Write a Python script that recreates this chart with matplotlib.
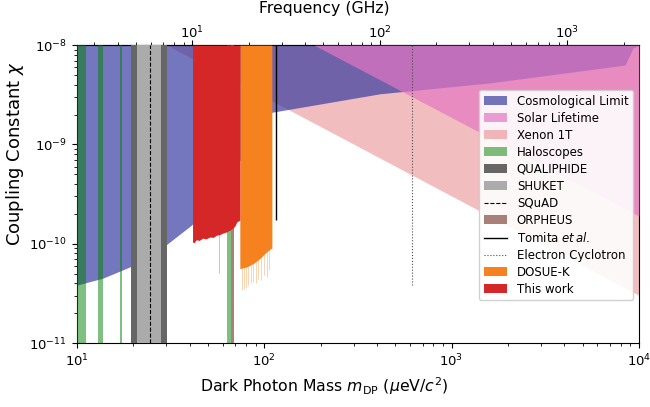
import numpy as np
import matplotlib
matplotlib.use('Agg')
import matplotlib.pyplot as plt
from matplotlib.patches import Patch
from matplotlib.lines import Line2D

YTOP = 1e-8

# cosmological limit, lower edge (mass in ueV, coupling)
cosmo_mass = [10.0, 13.8, 19.6, 30.3, 41.1, 55.0, 75.0, 95.0, 110.0, 415.0, 529.0, 1603.0, 8430.0, 9290.0, 10000.0]
cosmo_low = [3.83e-11, 4.51e-11, 5.94e-11, 9.9e-11, 1.55e-10, 3.16e-10, 7.08e-10, 1.41e-9, 2.11e-9,
             3.24e-9, 3.39e-9, 4.17e-9, 6.31e-9, 9.33e-9, 1e-8]

solar_mass = [185.0, 10000.0]
solar_low = [1e-8, 1.9e-10]

xenon_mass = [30.3, 10000.0]
xenon_low = [1e-8, 3.03e-11]

halo_lo = [10.0, 12.99, 16.97, 63.5]
halo_hi = [11.27, 13.81, 17.54, 66.2]

qualiphide = [19.6, 30.35]
shuket = [21.0, 28.3]
squad_mass = 24.7
orpheus = [66.2, 69.2]

tomita_mass = 115.5
tomita_low = 1.73e-10
cyclo_mass = 616.6
cyclo_low = 3.83e-11

dosue_mass = [74.2, 74.5, 80.7, 87.8, 94.9, 103.0, 108.5, 110.0]
dosue_low = [5.64e-11, 5.64e-11, 5.85e-11, 6.34e-11, 7.11e-11, 8.28e-11, 8.97e-11, 9.0e-11]
dosue_spike_mass = [76.0, 77.9, 79.9, 82.3, 84.9, 87.0, 90.3, 92.6, 96.0, 99.6, 103.4, 106.6]
dosue_spike_low = [3.41e-11, 3.49e-11, 3.66e-11, 3.83e-11, 4.01e-11, 4.10e-11, 4.01e-11, 4.40e-11,
                   4.30e-11, 4.82e-11, 4.61e-11, 5.42e-11]

red_mass = [41.5, 42.2, 43.5, 45.0, 47.1, 49.0, 51.3, 53.5, 55.7, 58.0, 60.2, 63.2, 66.0, 68.1, 70.0, 71.5, 73.0, 74.2]
red_low = [1.045e-10, 1.02e-10, 1.10e-10, 1.08e-10, 1.14e-10, 1.12e-10, 1.17e-10, 1.16e-10, 1.22e-10,
           1.24e-10, 1.28e-10, 1.32e-10, 1.38e-10, 1.44e-10, 1.52e-10, 1.66e-10, 1.70e-10, 1.73e-10]
red_spike_mass = [57.2]
red_spike_low = [5.06e-11]

fig, ax = plt.subplots(figsize=(6.5, 4.07), dpi=100)
fig.subplots_adjust(left=0.118, right=0.983, bottom=0.157, top=0.889)

c_cosmo = '#32379e'
c_solar = 'tab:pink'
c_xenon = 'tab:red'
c_halo = 'green'
c_orph = 'tab:brown'
c_dosue = '#f5821f'
c_red = '#d62728'

ax.fill_between(xenon_mass, xenon_low, YTOP, color=c_xenon, alpha=0.3, lw=0, zorder=1)
ax.fill_between(cosmo_mass, cosmo_low, YTOP, color=c_cosmo, alpha=0.68, lw=0, zorder=2)
ax.fill_between(solar_mass, solar_low, YTOP, color=c_solar, alpha=0.7, lw=0, zorder=3)
for lo, hi in zip(halo_lo, halo_hi):
    ax.axvspan(lo, hi, color=c_halo, alpha=0.5, lw=0, zorder=4)
ax.axvspan(orpheus[0], orpheus[1], color=c_orph, alpha=0.75, lw=0, zorder=4)
ax.axvspan(qualiphide[0], qualiphide[1], color='0.4', lw=0, zorder=5)
ax.axvspan(shuket[0], shuket[1], color='0.67', lw=0, zorder=6)
ax.axvline(squad_mass, color='k', ls='--', lw=0.8, zorder=7)
ax.vlines(tomita_mass, tomita_low, YTOP, color='k', lw=1.0, zorder=7)
ax.vlines(cyclo_mass, cyclo_low, YTOP, color='0.3', ls=':', lw=0.8, zorder=7)

ax.vlines(dosue_spike_mass, dosue_spike_low, 1e-9, color=c_dosue, alpha=0.4, lw=0.6, zorder=7.5)
ax.fill_between(dosue_mass, dosue_low, YTOP, color=c_dosue, lw=0, zorder=8)
ax.vlines(red_spike_mass, red_spike_low, 1e-9, color=c_red, alpha=0.4, lw=0.6, zorder=8.5)
ax.fill_between(red_mass, red_low, YTOP, color=c_red, lw=0, zorder=9)

ax.set_xscale('log')
ax.set_yscale('log')
ax.set_xlim(10, 1e4)
ax.set_ylim(1e-11, 1e-8)
ax.tick_params(labelsize=9.5)
ax.set_xlabel(r'Dark Photon Mass $m_{\rm DP}$ ($\mu$eV/$c^2$)', fontsize=11.3)
ax.xaxis.label.set_x(0.441)
ax.set_ylabel(r'Coupling Constant $\chi$', fontsize=13)
ax.yaxis.set_label_coords(-0.091, 0.636)

ueV_to_GHz = 0.241799
top = ax.secondary_xaxis('top', functions=(lambda m: m * ueV_to_GHz, lambda f: f / ueV_to_GHz))
top.tick_params(labelsize=9.5, pad=-1)
top.set_xlabel('Frequency (GHz)', fontsize=11.3, labelpad=9)
top.xaxis.label.set_x(0.441)

handles = [
    Patch(facecolor=c_cosmo, alpha=0.68, label='Cosmological Limit'),
    Patch(facecolor=c_solar, alpha=0.7, label='Solar Lifetime'),
    Patch(facecolor=c_xenon, alpha=0.3, label='Xenon 1T'),
    Patch(facecolor=c_halo, alpha=0.5, label='Haloscopes'),
    Patch(facecolor='0.4', label='QUALIPHIDE'),
    Patch(facecolor='0.67', label='SHUKET'),
    Line2D([], [], color='k', ls='--', lw=0.8, label='SQuAD'),
    Patch(facecolor=c_orph, alpha=0.75, label='ORPHEUS'),
    Line2D([], [], color='k', lw=1.0, label=r'Tomita $et\,al.$'),
    Line2D([], [], color='0.3', ls=':', lw=0.8, label='Electron Cyclotron'),
    Patch(facecolor=c_dosue, label='DOSUE-K'),
    Patch(facecolor=c_red, label='This work'),
]
ax.legend(handles=handles, loc='upper right', bbox_to_anchor=(0.990, 0.850), borderaxespad=0,
          fontsize=8.5, labelspacing=0.34, framealpha=0.9)

fig.savefig('out.png', dpi=100)
